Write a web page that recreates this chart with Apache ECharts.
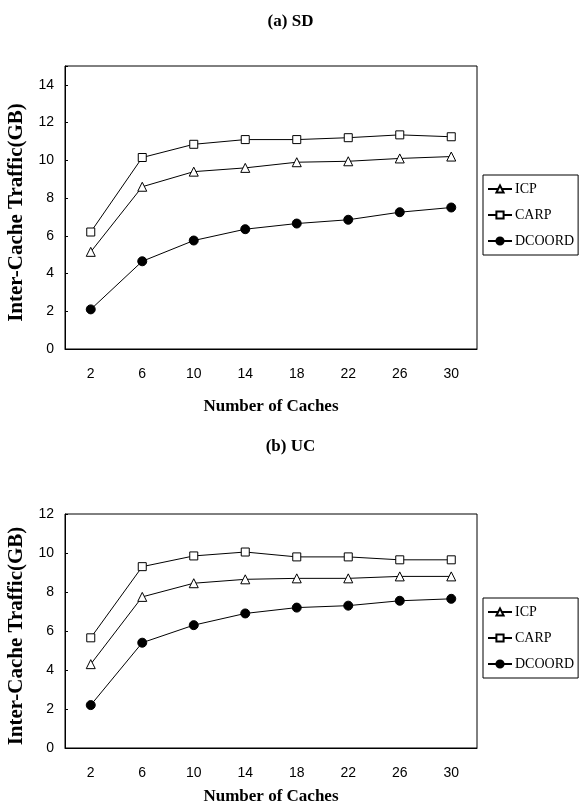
<!DOCTYPE html>
<html>
<head>
<meta charset="utf-8">
<script src="https://cdn.jsdelivr.net/npm/echarts@6/dist/echarts.min.js"></script>
<style>html,body{margin:0;padding:0;background:#fff;}#c{width:581px;height:805px;}</style>
</head>
<body>
<div id="c"></div>
<script>
var categories = ['2', '6', '10', '14', '18', '22', '26', '30'];
var seriesNames = ['ICP', 'CARP', 'DCOORD'];
var sdICP = [5.15, 8.6, 9.4, 9.6, 9.9, 9.95, 10.1, 10.2];
var sdCARP = [6.2, 10.15, 10.85, 11.1, 11.1, 11.2, 11.35, 11.25];
var sdDCOORD = [2.1, 4.65, 5.75, 6.35, 6.65, 6.85, 7.25, 7.5];
var ucICP = [4.3, 7.75, 8.45, 8.65, 8.7, 8.7, 8.8, 8.8];
var ucCARP = [5.65, 9.3, 9.85, 10.05, 9.8, 9.8, 9.65, 9.65];
var ucDCOORD = [2.2, 5.4, 6.3, 6.9, 7.2, 7.3, 7.55, 7.65];
var titles = ['(a) SD', '(b) UC'];
var xName = 'Number of Caches';
var yName = 'Inter-Cache Traffic(GB)';

var serif = 'Liberation Serif';
var sans = 'Liberation Sans';
var chart = echarts.init(document.getElementById('c'), null, {renderer: 'canvas'});

var symbols = {ICP: ['triangle', 9, '#fff'], CARP: ['rect', 8, '#fff'], DCOORD: ['circle', 9, '#000']};
function mk(name, data, idx) {
  var s = symbols[name];
  return {
    name: name, type: 'line', xAxisIndex: idx, yAxisIndex: idx, data: data,
    symbol: s[0], symbolSize: s[1], showAllSymbol: true,
    lineStyle: {color: '#000', width: 1},
    itemStyle: {color: s[2], borderColor: '#000', borderWidth: 1},
    emphasis: {disabled: true}, animation: false, z: name === 'DCOORD' ? 3 : 2
  };
}
function xAx(idx, gap) {
  return {
    type: 'category', gridIndex: idx, data: categories, boundaryGap: true,
    name: xName, nameLocation: 'middle', nameGap: gap,
    nameTextStyle: {fontFamily: serif, fontWeight: 'bold', fontSize: 17, color: '#000'},
    axisLine: {lineStyle: {color: '#000', width: 1}},
    axisTick: {inside: true, length: 4, lineStyle: {color: '#000'}},
    axisLabel: {fontFamily: sans, fontSize: 14, color: '#000', margin: 18},
    splitLine: {show: false}
  };
}
function yAx(idx, max) {
  return {
    type: 'value', gridIndex: idx, min: 0, max: max, interval: 2,
    name: yName, nameLocation: 'middle', nameGap: 28, nameRotate: 90,
    nameTextStyle: {fontFamily: serif, fontWeight: 'bold', fontSize: 21, color: '#000', padding: [0, 10, 0, 0]},
    axisLine: {show: true, lineStyle: {color: '#000', width: 1}},
    axisTick: {show: true, inside: true, length: 3, lineStyle: {color: '#000'}},
    axisLabel: {fontFamily: sans, fontSize: 14, color: '#000', margin: 11,
      formatter: function (v) { return (v % 2 === 0) ? String(v) : ''; }},
    splitLine: {show: false}
  };
}
function lg(top) {
  return {
    data: seriesNames, orient: 'vertical', left: 483, top: top,
    itemWidth: 24, itemHeight: 9, itemGap: 12,
    borderColor: '#000', borderWidth: 1, padding: [7, 4, 7, 4],
    textStyle: {fontFamily: serif, fontSize: 14, color: '#000', padding: [0, 0, 0, -2]},
    selectedMode: false, backgroundColor: '#fff'
  };
}
var option = {
  backgroundColor: '#fff',
  animation: false,
  title: [
    {text: titles[0], left: 'center', top: 8, textStyle: {fontFamily: serif, fontWeight: 'bold', fontSize: 17, color: '#000'}},
    {text: titles[1], left: 'center', top: 433, textStyle: {fontFamily: serif, fontWeight: 'bold', fontSize: 17, color: '#000'}}
  ],
  legend: [lg(175), lg(598)],
  grid: [
    {left: 65, top: 66, width: 412, height: 283, show: true, borderColor: '#000', borderWidth: 1, containLabel: false, outerBoundsMode: 'none'},
    {left: 65, top: 514, width: 412, height: 234, show: true, borderColor: '#000', borderWidth: 1, containLabel: false, outerBoundsMode: 'none'}
  ],
  xAxis: [xAx(0, 49), xAx(1, 40)],
  yAxis: [yAx(0, 15), yAx(1, 12)],
  series: [
    mk('ICP', sdICP, 0), mk('CARP', sdCARP, 0), mk('DCOORD', sdDCOORD, 0),
    mk('ICP', ucICP, 1), mk('CARP', ucCARP, 1), mk('DCOORD', ucDCOORD, 1)
  ]
};
chart.setOption(option);
</script>
</body>
</html>
